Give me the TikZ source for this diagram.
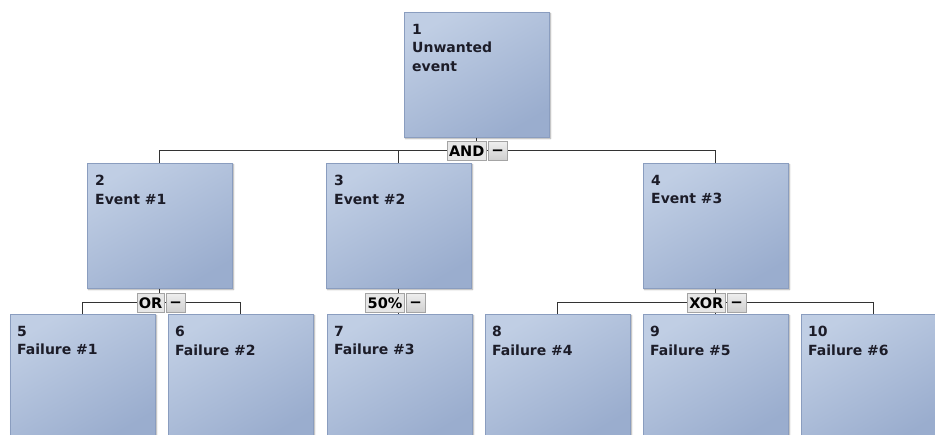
\documentclass[tikz,border=0pt]{standalone}
\usepackage{fontspec}
\setmainfont{DejaVu Sans}
\usetikzlibrary{shadows.blur}

\definecolor{boxtop}{HTML}{C0CEE4}
\definecolor{boxbot}{HTML}{9AADCE}
\definecolor{boxedge}{HTML}{8A9DBF}
\definecolor{wirecol}{HTML}{333333}
\definecolor{ink}{HTML}{1C1C28}
\definecolor{gatefill}{HTML}{E6E6E6}
\definecolor{gateedge}{HTML}{A4A4A4}
\definecolor{btntop}{HTML}{EEEEEE}
\definecolor{btnbot}{HTML}{CFCFCF}

% minus glyph centred on the button
\newcommand{\btnminus}{\raisebox{-4.6pt}[0pt][0pt]{−}}

\tikzset{
  evbox/.style={rectangle, anchor=north west, minimum width=145pt, minimum height=125pt,
    inner sep=0pt, draw=boxedge, line width=0.6pt,
    top color=boxtop, bottom color=boxbot, shading angle=30,
    blur shadow={shadow xshift=1.2pt, shadow yshift=-1.2pt, shadow blur radius=1.5pt, shadow opacity=35}},
  evtext/.style={anchor=north west, inner sep=0pt, align=left, text=ink,
    font=\fontsize{14}{18.5}\selectfont\bfseries},
  wire/.style={draw=wirecol, line width=1pt},
  gatetext/.style={rectangle, anchor=east, draw=gateedge, fill=gatefill, line width=0.8pt,
    minimum height=19pt, inner xsep=2pt, inner ysep=0pt, text=black,
    font=\fontsize{14.5}{14.5}\selectfont\bfseries},
  gatebtn/.style={rectangle, anchor=west, draw=gateedge, line width=0.8pt,
    top color=btntop, bottom color=btnbot, minimum width=19pt, minimum height=19pt,
    inner sep=0pt, text=black, font=\fontsize{15}{15}\selectfont\bfseries},
}

\begin{document}
\begin{tikzpicture}[x=1pt, y=-1pt]
  \useasboundingbox (0,0) rectangle (935,435);
  \clip (0,0) rectangle (935,435);

  % event boxes: top-left corners
  \node[evbox] (b1)  at (404,12)  {};
  \node[evbox] (b2)  at (87,163)  {};
  \node[evbox] (b3)  at (326,163) {};
  \node[evbox] (b4)  at (643,163) {};
  \node[evbox] (b5)  at (10,314)  {};
  \node[evbox] (b6)  at (168,314) {};
  \node[evbox] (b7)  at (327,314) {};
  \node[evbox] (b8)  at (485,314) {};
  \node[evbox] (b9)  at (643,314) {};
  \node[evbox] (b10) at (801,314) {};

  % bus levels
  \coordinate (bus1) at (0,151);
  \coordinate (bus2) at (0,303);

  % connectors, level 1
  \coordinate (g1) at (b1.south |- bus1);
  \draw[wire] (b1.south) -- (g1);
  \draw[wire] (b2.north) |- (bus1 -| b4.north) -- (b4.north);
  \draw[wire] (b3.north) -- (b3.north |- bus1);

  % connectors, level 2
  \coordinate (g2) at (b2.south |- bus2);
  \draw[wire] (b2.south) -- (g2);
  \draw[wire] (b5.north) |- (bus2 -| b6.north) -- (b6.north);

  \coordinate (g3) at (b3.south |- bus2);
  \draw[wire] (b3.south) -- (b3.south |- b7.north);

  \coordinate (g4) at (b4.south |- bus2);
  \draw[wire] (b4.south) -- (g4);
  \draw[wire] (b8.north) |- (bus2 -| b10.north) -- (b10.north);
  \draw[wire] (b9.north) -- (b9.north |- bus2);

  % box captions
  \node[evtext] (t1)  at ([shift={(8pt,-12pt)}]b1.north west)  {1\\Unwanted\\event};
  \node[evtext] (t2)  at ([shift={(8pt,-12pt)}]b2.north west)  {2\\Event \#1};
  \node[evtext] (t3)  at ([shift={(8pt,-12pt)}]b3.north west)  {3\\Event \#2};
  \node[evtext] (t4)  at ([shift={(8pt,-12pt)}]b4.north west)  {4\\Event \#3};
  \node[evtext] (t5)  at ([shift={(7pt,-12pt)}]b5.north west)  {5\\Failure \#1};
  \node[evtext] (t6)  at ([shift={(7pt,-12pt)}]b6.north west)  {6\\Failure \#2};
  \node[evtext] (t7)  at ([shift={(7pt,-12pt)}]b7.north west)  {7\\Failure \#3};
  \node[evtext] (t8)  at ([shift={(7pt,-12pt)}]b8.north west)  {8\\Failure \#4};
  \node[evtext] (t9)  at ([shift={(7pt,-12pt)}]b9.north west)  {9\\Failure \#5};
  \node[evtext] (t10) at ([shift={(7pt,-12pt)}]b10.north west) {10\\Failure \#6};

  % gate labels with collapse buttons
  \node[gatetext] (gand) at ([xshift=10pt]g1) {AND};
  \node[gatebtn]  (mand) at ([xshift=1pt]gand.east) {\btnminus};
  \node[gatetext] (gor)  at ([xshift=5pt]g2) {OR};
  \node[gatebtn]  (mor)  at ([xshift=1pt]gor.east) {\btnminus};
  \node[gatetext] (gpct) at ([xshift=6pt]g3) {50\%};
  \node[gatebtn]  (mpct) at ([xshift=1pt]gpct.east) {\btnminus};
  \node[gatetext] (gxor) at ([xshift=10pt]g4) {XOR};
  \node[gatebtn]  (mxor) at ([xshift=1pt]gxor.east) {\btnminus};
\end{tikzpicture}
\end{document}
